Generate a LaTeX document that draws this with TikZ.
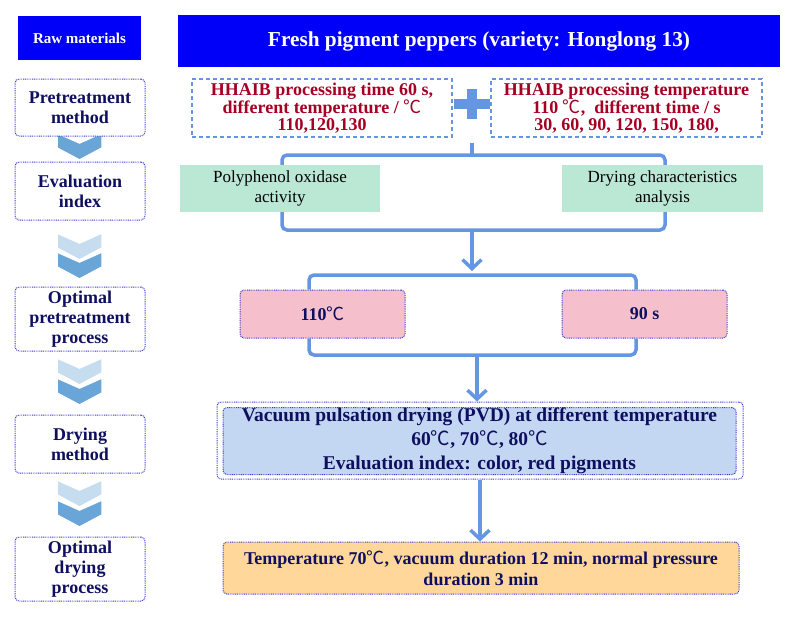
\documentclass[tikz,border=0pt]{standalone}
\usepackage{fontspec}
\setmainfont{Liberation Serif}
\newfontfamily\cjk{Noto Sans CJK SC}
\newcommand{\degC}{{\cjk\mdseries ℃}}
\usetikzlibrary{arrows.meta}

\definecolor{hdrblue}{RGB}{0,0,250}
\definecolor{navy}{RGB}{15,15,95}
\definecolor{dotblue}{RGB}{60,60,210}
\definecolor{lineblue}{RGB}{100,150,225}
\definecolor{chevdark}{RGB}{105,165,215}
\definecolor{chevlight}{RGB}{198,221,240}
\definecolor{darkred}{RGB}{165,0,35}
\definecolor{mint}{RGB}{187,232,212}
\definecolor{rose}{RGB}{245,192,203}
\definecolor{paleblue}{RGB}{195,214,242}
\definecolor{apricot}{RGB}{255,215,155}

\tikzset{
  header/.style={fill=hdrblue, text=white, inner sep=0pt},
  dotline/.style={draw=dotblue, line width=1pt, dash pattern=on 0.9pt off 0.9pt, rounded corners=4pt},
  stage/.style={dotline, fill=white, text=navy, align=center, inner sep=0pt,
    minimum width=130pt, font=\bfseries\fontsize{18}{20}\selectfont},
  factor/.style={draw=lineblue, line width=1.2pt, dash pattern=on 4pt off 3pt, text=darkred,
    align=center, inner sep=0pt, minimum height=58pt, font=\bfseries\fontsize{18}{17}\selectfont},
  index/.style={fill=mint, align=center, inner sep=0pt, minimum height=47pt,
    font=\fontsize{17}{20}\selectfont},
  optimum/.style={dotline, fill=rose, text=navy, inner sep=0pt, minimum width=165pt,
    minimum height=48pt, font=\bfseries\fontsize{18}{20}\selectfont},
  result/.style={dotline, text=navy, align=center, inner sep=0pt, font=\bfseries\fontsize{18}{21}\selectfont},
  flow/.style={draw=lineblue, line width=3.5pt, rounded corners=5pt},
  arr/.style={draw=lineblue, line width=3.5pt, -{Straight Barb[length=9pt,width=19pt]}}
}

\begin{document}
\begin{tikzpicture}[x=1pt,y=-1pt]
\useasboundingbox (0,0) rectangle (792,616);

% Chevrons between the stages
\foreach \t in {358,480}
  \fill[chevlight, draw=white, line width=1.5pt] (57,\t) -- (79.5,{\t+10}) -- (102,\t) -- (102,{\t+15}) -- (79.5,{\t+27}) -- (57,{\t+15}) -- cycle;
\fill[chevlight, draw=white, line width=1.5pt] (57,233) -- (79.5,243) -- (102,233) -- (102,248) -- (79.5,260) -- (57,248) -- cycle;
\foreach \t in {133,252,378,500}
  \fill[chevdark, draw=white, line width=1.5pt] (57,\t) -- (79.5,{\t+10}) -- (102,\t) -- (102,{\t+15}) -- (79.5,{\t+27}) -- (57,{\t+15}) -- cycle;

% Headers
\node[header, minimum width=123pt, minimum height=44pt, font=\bfseries\fontsize{15}{17}\selectfont] (raw) at (79.5,38) {Raw materials};
\node[header, minimum width=602pt, minimum height=52pt, font=\bfseries\fontsize{21.3}{26}\selectfont] (fresh) at (479,41) {Fresh pigment peppers (variety: Honglong 13)};

% Stages
\node[stage, minimum height=57pt] (pre) at (80,107.5) {Pretreatment\\method};
\node[stage, minimum height=58pt] (eval) at (80,191) {Evaluation\\index};
\node[stage, minimum height=64pt] (optpre) at (80,319) {Optimal\\pretreatment\\process};
\node[stage, minimum height=58pt] (drym) at (80,444) {Drying\\method};
\node[stage, minimum height=64pt] (optdry) at (80,569) {Optimal\\drying\\process};

% Pretreatment factors
\node[factor, minimum width=260pt] (temp) at (322,108) {HHAIB processing time 60 s,\\different temperature / \degC\\110,120,130};
\node[factor, minimum width=271pt] (time) at (626.5,108) {HHAIB processing temperature\\110 \degC,\ \ different time / s\\30, 60, 90, 120, 150, 180,};
\fill[lineblue] (454,99) rectangle (490,109);
\fill[lineblue] (467,89) rectangle (477,119);
\coordinate (plus) at (472,143);

% Evaluation bracket
\coordinate (b1nw) at (282,155);
\coordinate (b1se) at (665,230);
\draw[flow] (b1nw) rectangle (b1se);
\draw[flow, rounded corners=0pt] (plus) -- (plus |- b1nw);
\node[index, minimum width=200pt] (ppo) at (280,188.5) {Polyphenol oxidase\\activity};
\node[index, minimum width=201pt] (dca) at (662.5,188.5) {Drying characteristics\\analysis};
\coordinate (b2top) at (472,275);
\draw[arr] (plus |- b1se) -- ([yshift=4pt]b2top);

% Optimal pretreatment
\node[optimum] (t110) at (322.5,314) {110\degC};
\node[optimum] (s90) at (644.5,314) {90 s};
\coordinate (b2l) at (309,275);
\coordinate (b2r) at (636,275);
\draw[flow] (t110.north -| b2l) -- (b2l) -- (b2r) -- (s90.north -| b2r);
\coordinate (b3l) at (309,355);
\coordinate (b3r) at (636,355);
\draw[flow] (t110.south -| b3l) -- (b3l) -- (b3r) -- (s90.south -| b3r);
\coordinate (b3m) at (477,355);

% Drying
\node[dotline, minimum width=526pt, minimum height=77pt, fill=white] (pvdout) at (480,440.5) {};
\node[result, fill=paleblue, minimum width=513pt, minimum height=67pt, font=\bfseries\fontsize{19.5}{24}\selectfont] (pvd) at (479.5,441) {Vacuum pulsation drying (PVD) at different temperature\\60\degC, 70\degC, 80\degC\\Evaluation index: color, red pigments};
\draw[arr] (b3m) -- (pvdout.north -| b3m);
\node[result, fill=apricot, minimum width=516pt, minimum height=52pt] (best) at (481,568) {Temperature 70\degC, vacuum duration 12 min, normal pressure\\duration 3 min};
\coordinate (a2) at (480,479);
\draw[arr] (pvdout.south -| a2) -- (best.north -| a2);

\end{tikzpicture}
\end{document}
